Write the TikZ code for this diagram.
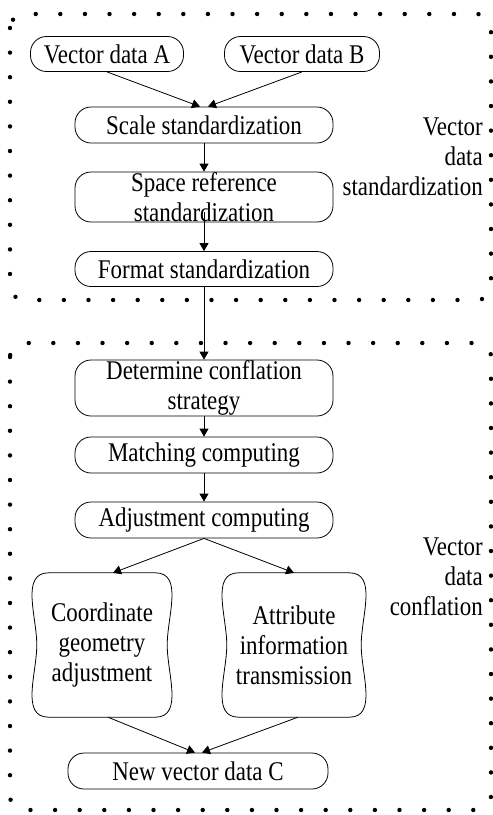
\documentclass[tikz,border=0pt]{standalone}
\usepackage{fontspec}
\setmainfont{Liberation Serif}[FakeStretch=0.85]
\usepackage{tikz}
\usetikzlibrary{arrows.meta,positioning,calc}

\tikzset{
  stepbox/.style={draw, rounded corners=16pt, line width=0.8pt, inner sep=0pt,
    minimum width=258pt, minimum height=36pt, align=center,
    font=\fontsize{27}{30}\selectfont},
  tallbox/.style={inner sep=0pt, minimum height=144pt, align=center,
    font=\fontsize{27}{30}\selectfont},
  grouplabel/.style={anchor=east, align=right, inner sep=0pt,
    font=\fontsize{27}{30}\selectfont},
  flow/.style={line width=0.8pt, -{Triangle[length=8pt,width=9pt]}},
  dotbox/.style={line width=4.4pt, line cap=round, dash pattern=on 0pt off 24.6pt,
    rounded corners=14pt},
}

\begin{document}
\begin{tikzpicture}[x=1pt,y=-1pt]
            \useasboundingbox (0,0) rectangle (493,815);

            % the two dotted groups
            \draw[dotbox] (10,14) rectangle (491,300);
            \draw[dotbox] (10,343) rectangle (491,810);

            % standardization part
            \node[stepbox, minimum width=153pt, minimum height=35pt] (vda) at (107,54) {Vector data A};
            \node[stepbox, minimum width=155pt, minimum height=35pt] (vdb) at (302,54) {Vector data B};
            \node[stepbox] (scale) at (204,125) {Scale standardization};
            \node[stepbox, minimum height=50pt] (space) at (204,197) {Space reference\\standardization};
            \node[stepbox, minimum height=35pt] (format) at (204,269) {Format standardization};

            % conflation part
            \node[stepbox, minimum height=56pt] (strategy) at (204,388) {Determine conflation\\strategy};
            \node[stepbox] (matching) at (204,455) {Matching computing};
            \node[stepbox] (adjust) at (204,520) {Adjustment computing};
            \node[tallbox, minimum width=130pt] (coord) at (102,645) {Coordinate\\geometry\\adjustment};
            \node[tallbox, minimum width=134pt] (attr) at (294,645) {Attribute\\information\\transmission};
            \node[stepbox, minimum width=260pt] (vdc) at (198,771) {New vector data C};

            % bowed outlines of the two tall boxes
\foreach \b in {coord,attr}{
            \draw[line width=0.8pt] ([xshift=12pt]\b.north west) -- ([xshift=-12pt]\b.north east)
                to[out=0,in=90] (\b.east) to[out=-90,in=0] ([xshift=-12pt]\b.south east)
                -- ([xshift=12pt]\b.south west)
                to[out=180,in=-90] (\b.west) to[out=90,in=180] cycle;
            }

            % group labels
            \node[grouplabel] (lblstd) at (483,157) {Vector\\data\\standardization};
            \node[grouplabel] (lblcfl) at (483,577) {Vector\\data\\conflation};

            % connectors
            \draw[flow] (vda.south) -- ([xshift=-4pt]scale.north);
            \draw[flow] (vdb.south) -- ([xshift=4pt]scale.north);
            \draw[flow] (scale) -- (space);
            \draw[flow] ([yshift=10pt]space.south) -- (format.north);
            \draw[flow] (format) -- (strategy);
            \draw[flow] (strategy) -- (matching);
            \draw[flow] (matching) -- (adjust);
            \draw[flow] (adjust.south) -- ([xshift=11pt]coord.north);
            \draw[flow] (adjust.south) -- (attr.north);
            \draw[flow] ([xshift=6pt]coord.south) -- ([xshift=-3pt]vdc.north);
            \draw[flow] ([xshift=4pt]attr.south) -- ([xshift=4pt]vdc.north);
            \end{tikzpicture}
\end{document}
